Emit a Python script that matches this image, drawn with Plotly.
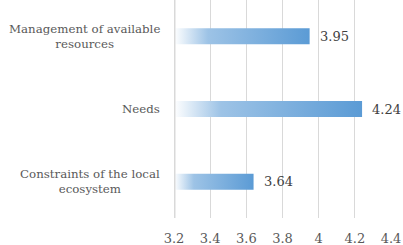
import plotly.graph_objects as go

categories = ["Constraints of the local<br>ecosystem", "Needs", "Management of available<br>resources"]
values = [3.64, 4.24, 3.95]
value_labels = ["3.64", "4.24", "3.95"]
x_ticks = [3.2, 3.4, 3.6, 3.8, 4.0, 4.2, 4.4]
x_tick_labels = ["3.2", "3.4", "3.6", "3.8", "4", "4.2", "4.4"]

BASE = 3.2
HALF = 0.11
FONT = "DejaVu Serif"
SIZE = 13
CAT_SIZE = 11.8

fig = go.Figure()
for i, v in enumerate(values):
    fig.add_trace(go.Scatter(
        x=[BASE, v, v, BASE, BASE],
        y=[i - HALF, i - HALF, i + HALF, i + HALF, i - HALF],
        mode="lines", line=dict(width=0), fill="toself",
        fillgradient=dict(type="horizontal",
                          colorscale=[[0, "#ffffff"], [0.25, "#9dc3e6"], [1, "#5b9bd5"]]),
        hoverinfo="skip", showlegend=False,
    ))
    fig.add_annotation(x=v, y=i, xref="x", yref="y", text=value_labels[i],
                       showarrow=False, xanchor="left", xshift=8,
                       font=dict(family=FONT, size=SIZE, color="#404040"))
    fig.add_annotation(x=0, y=i, xref="paper", yref="y", text=categories[i],
                       showarrow=False, xanchor="right", xshift=-12, align="center",
                       font=dict(family=FONT, size=CAT_SIZE, color="#595959"))

fig.update_layout(
    width=403, height=245,
    margin=dict(l=174, r=12, t=0, b=27),
    paper_bgcolor="white", plot_bgcolor="white",
    font=dict(family=FONT),
    xaxis=dict(range=[3.2, 4.4], tickvals=x_ticks, ticktext=x_tick_labels,
               showgrid=True, gridcolor="#d9d9d9", gridwidth=1, zeroline=False,
               showline=False, ticks="outside", ticklen=8, tickcolor="rgba(0,0,0,0)",
               tickfont=dict(family=FONT, size=SIZE, color="#595959")),
    yaxis=dict(range=[-0.5, 2.5], showticklabels=False, showgrid=False,
               zeroline=False, showline=False),
    shapes=[dict(type="line", xref="x", yref="paper", x0=3.2, x1=3.2, y0=0, y1=1,
                 line=dict(color="#d9d9d9", width=3))],
)

fig.write_html("out.html", config={"displayModeBar": False},
               post_script="document.body.style.margin='0';")
